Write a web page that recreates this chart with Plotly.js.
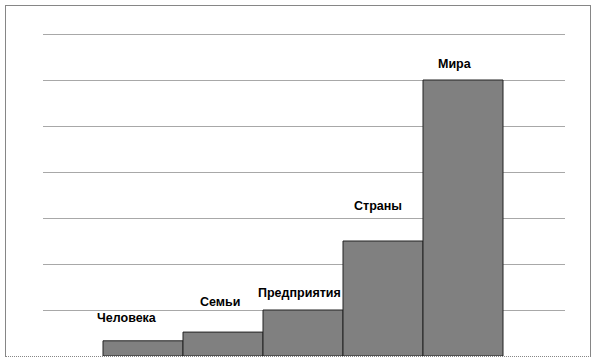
<!DOCTYPE html>
<html>
<head>
<meta charset="utf-8">
<script src="https://cdn.plot.ly/plotly-3.0.1.min.js"></script>
<style>
  html, body { margin: 0; padding: 0; background: #fff; }
  #wrap { position: relative; width: 596px; height: 362px; }
  #chart { position: absolute; left: 0; top: 0; width: 596px; height: 362px; }
  #frame { position: absolute; left: 5px; top: 5px; width: 584px; height: 350px;
           border: 1px solid #868686; border-bottom: 1px dotted #868686; pointer-events: none; }
</style>
</head>
<body>
<div id="wrap">
  <div id="chart"></div>
  <div id="frame"></div>
</div>
<script>
const categories = ["Человека", "Семьи", "Предприятия", "Страны", "Мира"];
const values = [0.33, 0.52, 1.0, 2.5, 6.0];
const labelShiftX = [-16, -3, -4, -5, -8];
const labelShiftY = [23, 30, 17, 35, 16];

const xIdx = categories.map((c, i) => i);

const trace = {
  type: 'bar',
  x: xIdx,
  y: values,
  marker: { color: '#808080', line: { color: '#222222', width: 1 } },
  hoverinfo: 'none'
};

const annotations = categories.map((c, i) => ({
  x: xIdx[i], y: values[i], xref: 'x', yref: 'y',
  text: c, showarrow: false,
  xshift: labelShiftX[i], yshift: labelShiftY[i],
  xanchor: 'center', yanchor: 'middle',
  font: { family: 'Liberation Sans, Arial, sans-serif', size: 12.5, color: '#000', weight: 'bold' }
}));

const layout = {
  width: 596, height: 362,
  margin: { l: 43, r: 31, t: 30, b: 6, pad: 0 },
  paper_bgcolor: '#ffffff', plot_bgcolor: '#ffffff',
  showlegend: false,
  bargap: 0,
  xaxis: { range: [-1.25, 5.275], showticklabels: false, showgrid: false, zeroline: false,
           showline: false, ticks: '', fixedrange: true },
  yaxis: { range: [0, 7.087], dtick: 1, tick0: 0, showticklabels: false, showgrid: true,
           gridcolor: '#a8a8a8', gridwidth: 1, zeroline: false, showline: false, ticks: '', fixedrange: true },
  annotations: annotations
};

Plotly.newPlot('chart', [trace], layout, { displayModeBar: false, staticPlot: true });
</script>
</body>
</html>
